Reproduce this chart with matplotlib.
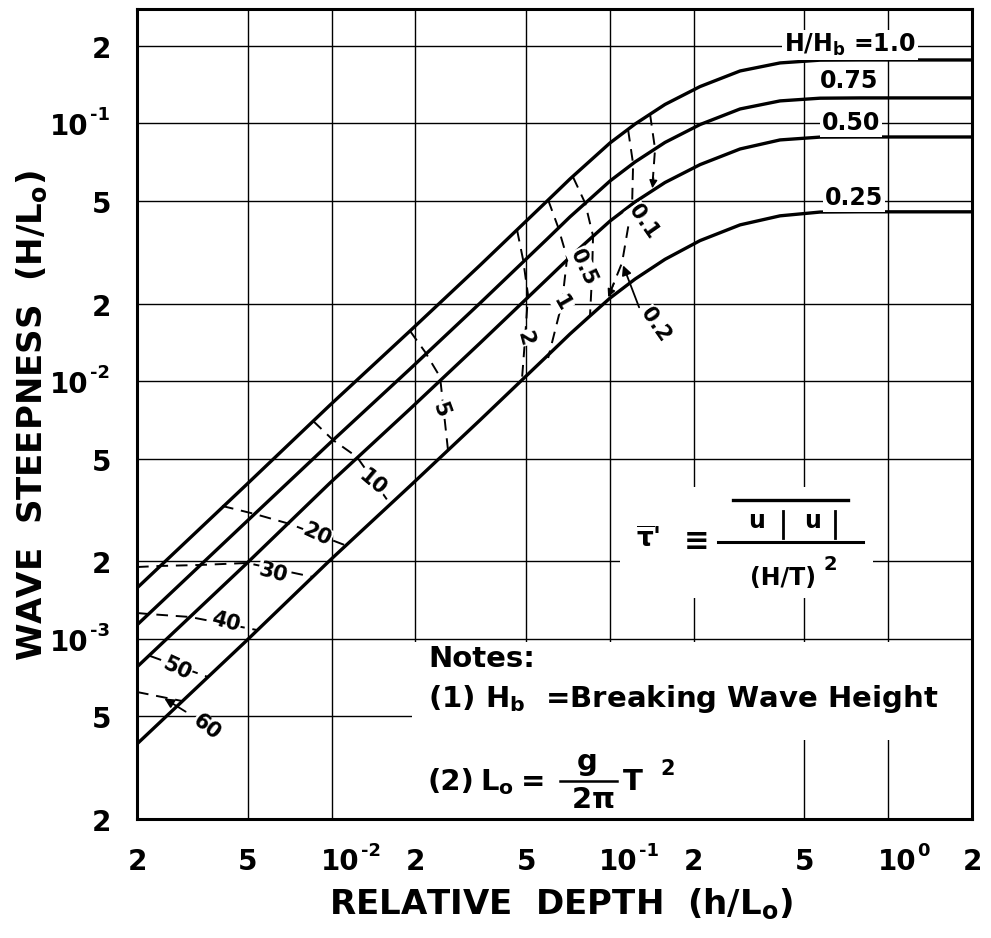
import matplotlib
matplotlib.use('Agg')
import matplotlib.pyplot as plt
import matplotlib.transforms as mtransforms
from matplotlib.patches import Rectangle
from matplotlib.lines import Line2D

plt.rcParams['font.family'] = ['DejaVu Sans']
plt.rcParams['mathtext.fontset'] = 'dejavusans'

# ---------------- data ----------------
h_100 = [2.0e-3, 4.89e-3, 9.88e-3, 1.914e-2, 3.42e-2, 5.95e-2, 7.19e-2, 8.48e-2, 0.1001, 0.1232, 0.1578, 0.2108, 0.2936, 0.4087, 0.569, 0.792, 2.0]
s_100 = [1.575e-3, 3.92e-3, 8.08e-3, 1.566e-2, 2.82e-2, 5.00e-2, 6.09e-2, 7.15e-2, 8.40e-2, 9.95e-2, 0.1185, 0.1390, 0.1598, 0.1717, 0.1760, 0.1763, 0.1763]

h_075 = [2.0e-3, 4.89e-3, 9.88e-3, 1.914e-2, 3.42e-2, 5.95e-2, 7.19e-2, 8.48e-2, 0.1001, 0.1232, 0.1578, 0.2108, 0.2936, 0.4087, 0.569, 0.792, 2.0]
s_075 = [1.132e-3, 2.816e-3, 5.76e-3, 1.115e-2, 2.01e-2, 3.56e-2, 4.34e-2, 5.09e-2, 5.98e-2, 7.09e-2, 8.44e-2, 9.90e-2, 0.1138, 0.1223, 0.1253, 0.1256, 0.1256]

h_050 = [2.0e-3, 4.89e-3, 9.88e-3, 1.914e-2, 3.42e-2, 5.95e-2, 7.19e-2, 8.48e-2, 0.1001, 0.1232, 0.1578, 0.2108, 0.2936, 0.4087, 0.569, 0.792, 2.0]
s_050 = [7.78e-4, 1.935e-3, 4.03e-3, 7.80e-3, 1.407e-2, 2.49e-2, 3.03e-2, 3.56e-2, 4.18e-2, 4.96e-2, 5.90e-2, 6.92e-2, 7.96e-2, 8.63e-2, 8.85e-2, 8.86e-2, 8.86e-2]

h_025 = [2.0e-3, 4.89e-3, 9.88e-3, 1.914e-2, 3.42e-2, 5.95e-2, 7.19e-2, 8.48e-2, 0.1001, 0.1232, 0.1578, 0.2108, 0.2936, 0.4087, 0.569, 0.792, 2.0]
s_025 = [3.91e-4, 9.72e-4, 2.02e-3, 3.92e-3, 7.07e-3, 1.252e-2, 1.524e-2, 1.79e-2, 2.10e-2, 2.49e-2, 2.97e-2, 3.51e-2, 4.04e-2, 4.38e-2, 4.53e-2, 4.54e-2, 4.54e-2]

curve_labels = ['H/H$_{\\mathbf{b}}$ =1.0', '0.75', '0.50', '0.25']

# tau' contours (dashed)
tau_labels = ['60', '50', '40', '30', '20', '10', '5', '2', '1', '0.5', '0.2', '0.1']
tau_h = [
    [2.0e-3, 2.90e-3],
    [2.23e-3, 3.60e-3],
    [2.0e-3, 2.19e-3, 3.10e-3, 5.40e-3],
    [2.0e-3, 2.42e-3, 3.37e-3, 4.97e-3, 8.58e-3],
    [4.04e-3, 5.31e-3, 7.09e-3, 1.118e-2],
    [8.58e-3, 1.012e-2, 1.234e-2, 1.622e-2],
    [1.914e-2, 2.168e-2, 2.454e-2, 2.62e-2],
    [4.64e-2, 4.88e-2, 5.08e-2, 4.96e-2, 4.83e-2],
    [6.0e-2, 6.51e-2, 7.02e-2, 6.73e-2, 6.0e-2],
    [7.37e-2, 8.15e-2, 8.70e-2, 8.63e-2, 8.48e-2],
    [0.1163, 0.1212, 0.1202, 0.1106, 9.77e-2],
    [0.1394, 0.1453, 0.1417],
]
tau_s = [
    [6.22e-4, 5.74e-4],
    [8.58e-4, 7.11e-4],
    [1.26e-3, 1.249e-3, 1.216e-3, 1.082e-3],
    [1.90e-3, 1.918e-3, 1.935e-3, 1.97e-3, 1.738e-3],
    [3.28e-3, 3.05e-3, 2.79e-3, 2.31e-3],
    [7.01e-3, 5.91e-3, 5.08e-3, 3.34e-3],
    [1.566e-2, 1.298e-2, 1.038e-2, 5.41e-3],
    [3.86e-2, 2.95e-2, 2.16e-2, 1.47e-2, 1.01e-2],
    [5.05e-2, 3.97e-2, 3.01e-2, 2.01e-2, 1.23e-2],
    [6.20e-2, 4.91e-2, 3.66e-2, 2.58e-2, 1.774e-2],
    [9.44e-2, 6.96e-2, 4.87e-2, 2.88e-2, 2.07e-2],
    [0.1088, 7.96e-2, 5.47e-2],
]

xtick_values = [2e-3, 5e-3, 1e-2, 2e-2, 5e-2, 1e-1, 2e-1, 5e-1, 1.0, 2.0]
xtick_labels = ['2', '5', '10^-2', '2', '5', '10^-1', '2', '5', '10^0', '2']
ytick_values = [2e-4, 5e-4, 1e-3, 2e-3, 5e-3, 1e-2, 2e-2, 5e-2, 1e-1, 2e-1]
ytick_labels = ['2', '5', '10^-3', '2', '5', '10^-2', '2', '5', '10^-1', '2']

# ---------------- layout ----------------
tau_label_pos = [(3.57e-3, 4.55e-4, -38), (2.78e-3, 7.64e-4, -25), (4.18e-3, 1.16e-3, -15),
                 (6.16e-3, 1.80e-3, -15), (8.87e-3, 2.53e-3, -25), (1.409e-2, 4.03e-3, -40),
                 (2.454e-2, 7.73e-3, -70), (4.96e-2, 1.47e-2, -75), (6.73e-2, 2.01e-2, -60),
                 (8.01e-2, 2.77e-2, -65), (0.1453, 1.65e-2, -55), (0.1316, 4.15e-2, -55)]
curve_label_pos = [(0.8539, 0.9469), (0.8527, 0.9025), (0.8551, 0.8506), (0.8587, 0.7580)]

fig = plt.figure(figsize=(9.91, 9.38), dpi=100)
ax = fig.add_axes([0.13824, 0.12687, 0.84258, 0.86354])
ax.set_xscale('log')
ax.set_yscale('log')
ax.set_xlim(2e-3, 2.0)
ax.set_ylim(2e-4, 0.278)
ax.set_xticks(xtick_values)
ax.set_yticks(ytick_values)
ax.minorticks_off()
ax.tick_params(which='both', length=0, labelbottom=False, labelleft=False)
ax.grid(True, color='black', lw=1.0)
ax.set_axisbelow(True)
for sp in ax.spines.values():
    sp.set_linewidth(2.2)
    sp.set_zorder(6)

def off(dx, dy):
    return mtransforms.ScaledTranslation(dx / 100.0, dy / 100.0, fig.dpi_scale_trans)

tfs, efs = 20, 13
# tick labels (manual, baseline aligned; powers drawn as base + raised exponent)
for v, lab in zip(xtick_values, xtick_labels):
    tr = ax.get_xaxis_transform()
    if '^' in lab:
        base, ex = lab.split('^')
        ax.text(v, 0, base, transform=tr + off(28, -51), ha='right', va='baseline',
                fontsize=tfs, fontweight='bold')
        ax.text(v, 0, ex, transform=tr + off(29, -37), ha='left', va='baseline',
                fontsize=efs, fontweight='bold')
    else:
        ax.text(v, 0, lab, transform=tr + off(0, -51), ha='center', va='baseline',
                fontsize=tfs, fontweight='bold')
for v, lab in zip(ytick_values, ytick_labels):
    tr = ax.get_yaxis_transform()
    if '^' in lab:
        base, ex = lab.split('^')
        ax.text(0, v, base, transform=tr + off(-48, -12), ha='right', va='baseline',
                fontsize=tfs, fontweight='bold')
        ax.text(0, v, ex, transform=tr + off(-47, 3), ha='left', va='baseline',
                fontsize=efs, fontweight='bold')
    else:
        ax.text(0, v, lab, transform=tr + off(-26, -12), ha='right', va='baseline',
                fontsize=tfs, fontweight='bold')

# white boxes (notes and formula areas)
for (x0, y0, w, hgt) in [(0.3293, 0.0975, 0.6707, 0.1205), (0.3293, 0.0, 0.3689, 0.0975),
                         (0.5784, 0.2728, 0.3030, 0.1371)]:
    ax.add_patch(Rectangle((x0, y0), w, hgt, transform=ax.transAxes, facecolor='white',
                           edgecolor='none', zorder=1.5))

# breaking curves
for hh, ss in [(h_100, s_100), (h_075, s_075), (h_050, s_050), (h_025, s_025)]:
    ax.plot(hh, ss, color='black', lw=2.4, zorder=4, solid_capstyle='butt', solid_joinstyle='round')

for lab, (fx, fy) in zip(curve_labels, curve_label_pos):
    ax.text(fx, fy, lab, transform=ax.transAxes, ha='center', va='baseline', fontsize=17,
            fontweight='bold', zorder=5,
            bbox=dict(facecolor='white', edgecolor='none', pad=1.5))

# tau' contours
for hh, ss in zip(tau_h, tau_s):
    ax.plot(hh, ss, color='black', lw=1.4, ls=(0, (6, 4)), zorder=3)
for lab, (lx, ly, rot) in zip(tau_labels, tau_label_pos):
    ax.text(lx, ly, lab, ha='center', va='center', rotation=rot, rotation_mode='anchor',
            fontsize=15, fontweight='bold', zorder=5,
            bbox=dict(facecolor='white', edgecolor='none', pad=0.5))

# arrows
ax.annotate('', xy=(2.46e-3, 5.95e-4), xytext=(3.05e-3, 5.15e-4),
            arrowprops=dict(arrowstyle='-|>', color='black', lw=1.3, mutation_scale=14), zorder=5)
ax.annotate('', xy=(0.1106, 2.88e-2), xytext=(0.1284, 1.89e-2),
            arrowprops=dict(arrowstyle='-|>', color='black', lw=1.3, mutation_scale=14), zorder=5)
ax.annotate('', xy=(9.77e-2, 2.07e-2), xytext=(0.1045, 2.45e-2),
            arrowprops=dict(arrowstyle='-|>', color='black', lw=1.0, mutation_scale=12), zorder=5)
ax.annotate('', xy=(0.1417, 5.47e-2), xytext=(0.1440, 6.3e-2),
            arrowprops=dict(arrowstyle='-|>', color='black', lw=1.0, mutation_scale=12), zorder=5)

# formula  tau' = mean(u|u|)/(H/T)^2
def fpx(x, y):
    return ((x - 137) / 835.0, (819 - y) / 810.0)

def hline(x0, x1, y, lw):
    ax.add_line(Line2D([fpx(x0, 0)[0], fpx(x1, 0)[0]], [fpx(0, y)[1]] * 2, transform=ax.transAxes,
                       color='black', lw=lw, zorder=5))

def vline(x, y0, y1, lw):
    ax.add_line(Line2D([fpx(x, 0)[0]] * 2, [fpx(0, y0)[1], fpx(0, y1)[1]], transform=ax.transAxes,
                       color='black', lw=lw, zorder=5))

kw = dict(transform=ax.transAxes, fontweight='bold', zorder=5)
ax.text(*fpx(636, 547), "$\\overline{\\mathbf{\\tau}}$'", ha='left', va='baseline', fontsize=19, **kw)
ax.text(*fpx(697, 550), '\u2261', ha='center', va='baseline', fontsize=22, **kw)
ax.text(*fpx(757, 528), 'u', ha='center', va='baseline', fontsize=17, **kw)
ax.text(*fpx(813, 528), 'u', ha='center', va='baseline', fontsize=17, **kw)
vline(783, 511, 538, 2.0)
vline(835, 511, 538, 2.0)
hline(733, 848, 500, 2.4)
hline(718, 863, 542, 2.2)
ax.text(*fpx(783, 585), '(H/T)', ha='center', va='baseline', fontsize=17, **kw)
ax.text(*fpx(824, 570), '2', ha='left', va='baseline', fontsize=14, **kw)

# notes
nfs = 21
ax.text(*fpx(428, 667), 'Notes:', ha='left', va='baseline', fontsize=nfs, **kw)
ax.text(*fpx(428, 707), '(1) H$_{\\mathbf{b}}$  =Breaking Wave Height', ha='left', va='baseline',
        fontsize=nfs, **kw)
ax.text(*fpx(428, 790), '(2)', ha='left', va='baseline', fontsize=nfs, **kw)
ax.text(*fpx(480, 790), 'L$_{\\mathbf{o}}$', ha='left', va='baseline', fontsize=nfs, **kw)
ax.text(*fpx(533, 790), '=', ha='center', va='baseline', fontsize=nfs, **kw)
ax.text(*fpx(587, 770), 'g', ha='center', va='baseline', fontsize=nfs, **kw)
hline(560, 617, 781, 1.8)
ax.text(*fpx(593, 808), '2$\\mathbf{\\pi}$', ha='center', va='baseline', fontsize=nfs, **kw)
ax.text(*fpx(623, 790), 'T', ha='left', va='baseline', fontsize=nfs, **kw)
ax.text(*fpx(660, 775), '2', ha='left', va='baseline', fontsize=15, **kw)

# axis titles
fig.text(561 / 991, 1 - 914 / 938, 'RELATIVE  DEPTH  (h/L$_{\\mathbf{o}}$)', ha='center', va='baseline',
         fontsize=24.5, fontweight='bold')
fig.text(42 / 991, 1 - 416 / 938, 'WAVE  STEEPNESS  (H/L$_{\\mathbf{o}}$)', ha='center', va='baseline',
         rotation=90, rotation_mode='anchor', fontsize=24.5, fontweight='bold')

fig.savefig('out.png', dpi=100, facecolor='white')
